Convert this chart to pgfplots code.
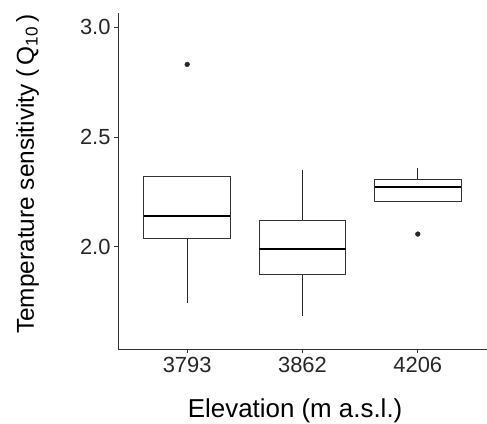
\documentclass[border=0pt]{standalone}
\usepackage{fontspec}
\setmainfont{Liberation Sans}
\usepackage{pgfplots}
\pgfplotsset{compat=1.18}
\usepgfplotslibrary{statistics}
\definecolor{boxgray}{HTML}{333333}
\begin{document}
\begin{tikzpicture}
\useasboundingbox (0,0) rectangle (487bp,424bp);
\begin{axis}[
    at={(118bp,75bp)}, anchor=south west,
    scale only axis,
    width=369bp, height=336bp,
    xmin=0.4, xmax=3.6,
    ymin=1.535, ymax=3.064,
    axis x line*=bottom, axis y line*=left,
    axis line style={-, draw=black!80, line width=0.8pt},
    xtick={1,2,3}, xticklabels={3793,3862,4206},
    ytick={2.0,2.5,3.0},
    yticklabel style={/pgf/number format/.cd, fixed, fixed zerofill, precision=1},
    /pgf/number format/assume math mode=true,
    tick align=outside, major tick length=4bp,
    tick style={draw=black!80, line width=0.8pt},
    ticklabel style={font=\fontsize{22}{26}\selectfont, text=black!85},
    xticklabel style={yshift=-1bp},
    xlabel={Elevation (m a.s.l.)},
    ylabel={Temperature sensitivity (\,Q\textsubscript{10}\,)},
    xlabel style={font=\fontsize{26}{30}\selectfont,
        at={(axis description cs:0.48,-0.185)}, anchor=center},
    ylabel style={font=\fontsize{24.5}{28}\selectfont,
        at={(axis description cs:-0.245,0.52)}, anchor=center},
    boxplot/draw direction=y,
    boxplot/box extend=0.75,
    boxplot/whisker extend=0,
    boxplot/every box/.style={draw=boxgray, line width=1pt},
    boxplot/every whisker/.style={draw=black!85, line width=1pt},
    boxplot/every median/.style={draw=black, line width=2pt},
]
%% 3793
\addplot[boxplot prepared={draw position=1, lower whisker=1.745, lower quartile=2.04,
    median=2.14, upper quartile=2.32, upper whisker=2.32},
    mark=*, mark size=2.4pt, mark options={fill=black!85, draw=black!85}]
    table[row sep=\\, y index=0] {2.83\\};
%% 3862
\addplot[boxplot prepared={draw position=2, lower whisker=1.683, lower quartile=1.875,
    median=1.99, upper quartile=2.12, upper whisker=2.35}]
    coordinates {};
%% 4206
\addplot[boxplot prepared={draw position=3, lower whisker=2.207, lower quartile=2.207,
    median=2.27, upper quartile=2.306, upper whisker=2.36},
    mark=*, mark size=2.4pt, mark options={fill=black!85, draw=black!85}]
    table[row sep=\\, y index=0] {2.058\\};
\end{axis}
\end{tikzpicture}
\end{document}
